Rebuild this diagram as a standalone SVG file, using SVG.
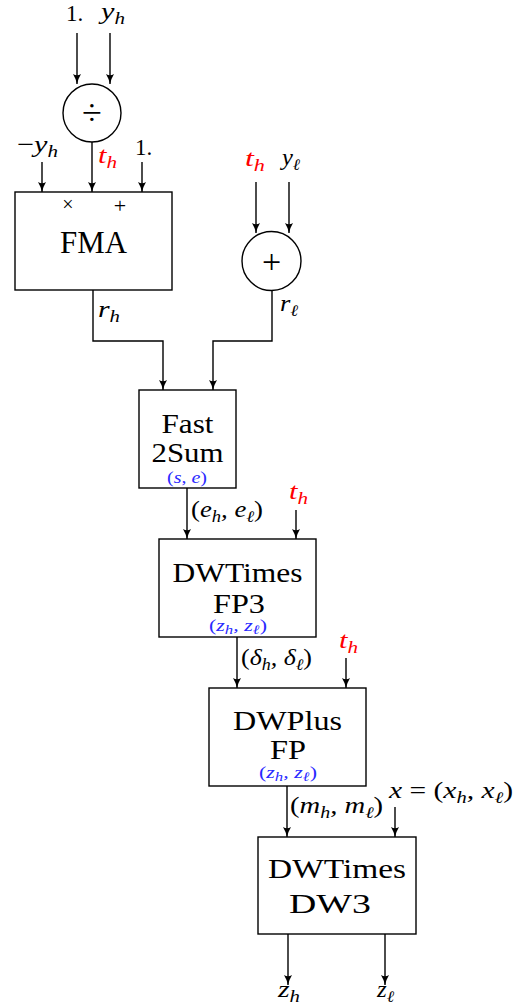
<svg xmlns="http://www.w3.org/2000/svg" width="519" height="1006" viewBox="0 0 519 1006">
<style>
.ln{stroke:#000;stroke-width:1.4;fill:none}
.ar{stroke:#000;stroke-width:1.4;fill:none;marker-end:url(#ah)}
.bx{stroke:#000;stroke-width:1.4;fill:#fff}
.t{font-family:"Liberation Serif","DejaVu Serif",serif;fill:#000}
.m{font-family:"Liberation Serif","DejaVu Serif",serif;font-style:italic;font-size:23px;fill:#000}
.n{font-style:normal}
.s{font-size:16px}
.red{fill:#ff0000}
.blue{fill:#2a2aff;font-size:17px}
.big{font-size:28px;text-anchor:middle}
</style>
<defs>
<marker id="ah" viewBox="0 0 10 8" markerWidth="10" markerHeight="8" refX="10" refY="4" orient="auto" markerUnits="userSpaceOnUse">
<path d="M0,0 Q5,3 10,4 Q5,5 0,8 Q2.5,4 0,0 Z" fill="#000"/>
</marker>
</defs>

<g id="connectors">
<line class="ar" x1="77" y1="33" x2="77" y2="84"/>
<line class="ar" x1="110" y1="33" x2="110" y2="84"/>
<line class="ar" x1="42" y1="162" x2="42" y2="192"/>
<line class="ar" x1="92" y1="142" x2="92" y2="192"/>
<line class="ar" x1="142" y1="162" x2="142" y2="192"/>
<line class="ar" x1="256" y1="182" x2="256" y2="233"/>
<line class="ar" x1="289" y1="182" x2="289" y2="233"/>
<polyline class="ar" points="93,290 93,341 163,341 163,390"/>
<polyline class="ar" points="272,290 272,341 213,341 213,390"/>
<line class="ar" x1="187" y1="488" x2="187" y2="539"/>
<line class="ar" x1="296" y1="510" x2="296" y2="539"/>
<line class="ar" x1="237" y1="637" x2="237" y2="688"/>
<line class="ar" x1="346" y1="658" x2="346" y2="688"/>
<line class="ar" x1="287" y1="786" x2="287" y2="837"/>
<line class="ar" x1="395" y1="807" x2="395" y2="837"/>
<line class="ar" x1="288" y1="934" x2="288" y2="985"/>
<line class="ar" x1="385" y1="934" x2="385" y2="985"/>
</g>

<g id="labels">
<text class="t" x="66" y="21" font-size="23">1.</text>
<text class="m" x="101" y="19" textLength="24" lengthAdjust="spacingAndGlyphs">y<tspan class="s" dy="5">h</tspan></text>
<text class="t" x="17" y="152" font-size="23" textLength="41" lengthAdjust="spacingAndGlyphs">−<tspan class="m">y</tspan><tspan class="m s" dy="5">h</tspan></text>
<text class="m red" x="98" y="163" textLength="19" lengthAdjust="spacingAndGlyphs">t<tspan class="s" dy="5">h</tspan></text>
<text class="t" x="135" y="155" font-size="23">1.</text>
<text class="m red" x="245" y="166" textLength="20" lengthAdjust="spacingAndGlyphs">t<tspan class="s" dy="5">h</tspan></text>
<text class="m" x="282" y="165" textLength="18" lengthAdjust="spacingAndGlyphs">y<tspan class="s" dy="5">ℓ</tspan></text>
<text class="m" x="98" y="317" textLength="22" lengthAdjust="spacingAndGlyphs">r<tspan class="s" dy="5">h</tspan></text>
<text class="m" x="280" y="311" textLength="18" lengthAdjust="spacingAndGlyphs">r<tspan class="s" dy="5">ℓ</tspan></text>
<text class="m" x="191" y="517" textLength="72" lengthAdjust="spacingAndGlyphs"><tspan class="n">(</tspan>e<tspan class="s" dy="5">h</tspan><tspan dy="-5">, e</tspan><tspan class="s" dy="5">ℓ</tspan><tspan class="n" dy="-5">)</tspan></text>
<text class="m red" x="289" y="499" textLength="19" lengthAdjust="spacingAndGlyphs">t<tspan class="s" dy="5">h</tspan></text>
<text class="m" x="241" y="665" textLength="71" lengthAdjust="spacingAndGlyphs"><tspan class="n">(</tspan>δ<tspan class="s" dy="5">h</tspan><tspan dy="-5">, δ</tspan><tspan class="s" dy="5">ℓ</tspan><tspan class="n" dy="-5">)</tspan></text>
<text class="m red" x="339" y="648" textLength="19" lengthAdjust="spacingAndGlyphs">t<tspan class="s" dy="5">h</tspan></text>
<text class="m" x="290" y="813" textLength="93" lengthAdjust="spacingAndGlyphs"><tspan class="n">(</tspan>m<tspan class="s" dy="5">h</tspan><tspan dy="-5">, m</tspan><tspan class="s" dy="5">ℓ</tspan><tspan class="n" dy="-5">)</tspan></text>
<text class="m" x="389" y="798" textLength="124" lengthAdjust="spacingAndGlyphs">x <tspan class="n">= (</tspan>x<tspan class="s" dy="5">h</tspan><tspan dy="-5">, x</tspan><tspan class="s" dy="5">ℓ</tspan><tspan class="n" dy="-5">)</tspan></text>
<text class="m" x="278" y="997" textLength="22" lengthAdjust="spacingAndGlyphs">z<tspan class="s" dy="5">h</tspan></text>
<text class="m" x="377" y="997" textLength="17" lengthAdjust="spacingAndGlyphs">z<tspan class="s" dy="5">ℓ</tspan></text>
</g>

<g id="div">
<circle class="bx" cx="92" cy="113" r="29"/>
<text class="t" x="92" y="125" font-size="36" text-anchor="middle">÷</text>
</g>

<g id="plus">
<circle class="bx" cx="271.5" cy="261" r="29.5"/>
<text class="t" x="271.5" y="273" font-size="34" text-anchor="middle">+</text>
</g>

<g id="fma">
<rect class="bx" x="15" y="192" width="157" height="98"/>
<text class="t" x="68" y="211" font-size="20" text-anchor="middle" fill="#333">×</text>
<text class="t" x="120" y="213" font-size="22" text-anchor="middle" fill="#333">+</text>
<text class="t" x="93.5" y="253" font-size="31" text-anchor="middle" textLength="67" lengthAdjust="spacingAndGlyphs">FMA</text>
</g>

<g id="fast2sum">
<rect class="bx" x="139" y="390" width="97" height="98"/>
<text class="t big" x="187.5" y="433" textLength="52" lengthAdjust="spacingAndGlyphs">Fast</text>
<text class="t big" x="187.5" y="462" textLength="72" lengthAdjust="spacingAndGlyphs">2Sum</text>
<text class="m blue" x="187" y="483" text-anchor="middle" textLength="40" lengthAdjust="spacingAndGlyphs"><tspan class="n">(</tspan>s<tspan class="n">, </tspan>e<tspan class="n">)</tspan></text>
</g>

<g id="dwtimesfp3">
<rect class="bx" x="159" y="539" width="157" height="98"/>
<text class="t big" x="237.5" y="582" textLength="130" lengthAdjust="spacingAndGlyphs">DWTimes</text>
<text class="t big" x="239" y="613" textLength="52" lengthAdjust="spacingAndGlyphs">FP3</text>
<text class="m blue" x="238" y="631" text-anchor="middle" textLength="58" lengthAdjust="spacingAndGlyphs"><tspan class="n">(</tspan>z<tspan font-size="13" dy="3">h</tspan><tspan dy="-3">, z</tspan><tspan font-size="13" dy="3">ℓ</tspan><tspan class="n" dy="-3">)</tspan></text>
</g>

<g id="dwplusfp">
<rect class="bx" x="209" y="688" width="157" height="98"/>
<text class="t big" x="287.5" y="730" textLength="109" lengthAdjust="spacingAndGlyphs">DWPlus</text>
<text class="t big" x="288" y="759" textLength="36" lengthAdjust="spacingAndGlyphs">FP</text>
<text class="m blue" x="288" y="778" text-anchor="middle" textLength="58" lengthAdjust="spacingAndGlyphs"><tspan class="n">(</tspan>z<tspan font-size="13" dy="3">h</tspan><tspan dy="-3">, z</tspan><tspan font-size="13" dy="3">ℓ</tspan><tspan class="n" dy="-3">)</tspan></text>
</g>

<g id="dwtimesdw3">
<rect class="bx" x="258" y="837" width="158" height="97"/>
<text class="t big" x="337" y="878" textLength="138" lengthAdjust="spacingAndGlyphs">DWTimes</text>
<text class="t big" x="330" y="913" textLength="82" lengthAdjust="spacingAndGlyphs">DW3</text>
</g>
</svg>
